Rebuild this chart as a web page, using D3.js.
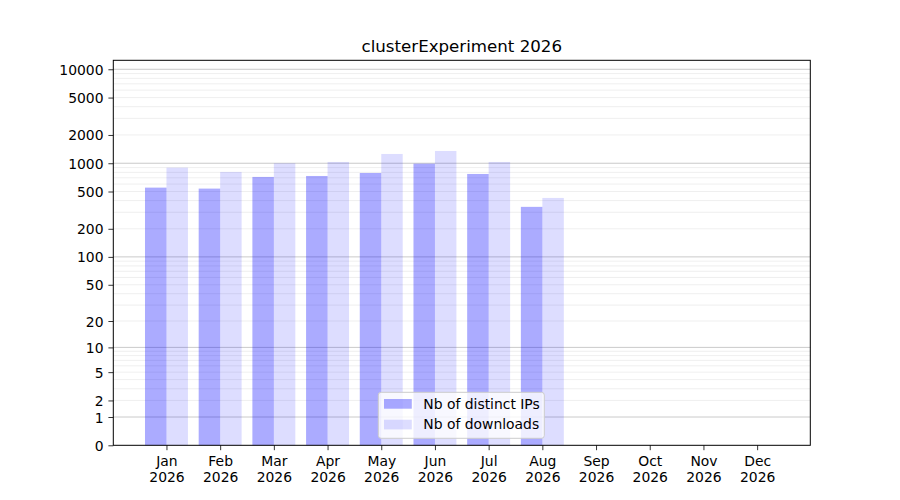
<!DOCTYPE html>
<html>
<head>
<meta charset="utf-8">
<script src="https://cdn.jsdelivr.net/npm/d3@7"></script>
<style>
  body { margin: 0; background: #fff; }
  text { font-family: "DejaVu Sans", sans-serif; fill: #000; }
</style>
</head>
<body>
<div id="chart"></div>
<script>
// ---- data ----
const months = ["Jan", "Feb", "Mar", "Apr", "May", "Jun", "Jul", "Aug", "Sep", "Oct", "Nov", "Dec"];
const year = "2026";
const distinctIPs = [550, 537, 715, 732, 788, 990, 769, 343, 0, 0, 0, 0];
const downloads = [898, 808, 999, 1032, 1256, 1352, 1032, 427, 0, 0, 0, 0];
const yTickValues = [0, 1, 2, 5, 10, 20, 50, 100, 200, 500, 1000, 2000, 5000, 10000];
const seriesNames = ["Nb of distinct IPs", "Nb of downloads"];
const titleText = "clusterExperiment 2026";

// ---- layout ----
const W = 900, H = 500;
const m = { left: 113.3, right: 810.3, top: 60.3, bottom: 445.3 };
const fs = 13.9;

const svg = d3.select("#chart").append("svg")
  .attr("width", W).attr("height", H)
  .attr("viewBox", `0 0 ${W} ${H}`);

const x = d3.scaleLinear().domain([-0.99, 11.99]).range([m.left, m.right]);
const y = d3.scaleSymlog().constant(1).domain([0, 12460]).range([m.bottom, m.top]);

// grid lines
const minorVals = [];
[1, 10, 100, 1000].forEach(d => { for (let k = 2; k <= 9; k++) minorVals.push(d * k); });
const majorVals = [1, 10, 100, 1000, 10000];

const grid = svg.append("g");
grid.selectAll("line.minor").data(minorVals.filter(v => y(v) >= m.top)).join("line")
  .attr("class", "minor")
  .attr("x1", m.left).attr("x2", m.right)
  .attr("y1", d => y(d)).attr("y2", d => y(d))
  .attr("stroke", "#ebebeb").attr("stroke-width", 0.8);
grid.selectAll("line.major").data(majorVals).join("line")
  .attr("class", "major")
  .attr("x1", m.left).attr("x2", m.right)
  .attr("y1", d => y(d)).attr("y2", d => y(d))
  .attr("stroke", "#c4c4c4").attr("stroke-width", 0.9);

// bars
const bw = 0.4;
const bars = svg.append("g");
bars.selectAll("rect.ips").data(distinctIPs).join("rect")
  .attr("class", "ips")
  .attr("x", (d, i) => x(i - bw))
  .attr("width", (d, i) => x(i) - x(i - bw))
  .attr("y", d => y(d))
  .attr("height", d => y(0) - y(d))
  .attr("fill", "blue").attr("fill-opacity", 0.33);
bars.selectAll("rect.dl").data(downloads).join("rect")
  .attr("class", "dl")
  .attr("x", (d, i) => x(i))
  .attr("width", (d, i) => x(i + bw) - x(i))
  .attr("y", d => y(d))
  .attr("height", d => y(0) - y(d))
  .attr("fill", "blue").attr("fill-opacity", 0.135);

// axes
const yAxis = d3.axisLeft(y).tickValues(yTickValues).tickFormat(d3.format("d"))
  .tickSize(4.9).tickPadding(4.9);
const gy = svg.append("g").attr("transform", `translate(${m.left},0)`).call(yAxis);
gy.select(".domain").remove();
gy.selectAll(".tick line").attr("stroke", "#000").attr("stroke-width", 0.8);
gy.selectAll(".tick text").attr("font-size", fs).attr("font-family", "DejaVu Sans").attr("dy", "0.36em").attr("fill", "#000");

const xAxis = d3.axisBottom(x).tickValues(d3.range(12)).tickSize(4.9).tickFormat(() => "");
const gx = svg.append("g").attr("transform", `translate(0,${m.bottom})`).call(xAxis);
gx.select(".domain").remove();
gx.selectAll(".tick line").attr("stroke", "#000").attr("stroke-width", 0.8);
gx.selectAll(".tick").each(function (d) {
  const t = d3.select(this).append("text")
    .attr("text-anchor", "middle").attr("font-size", fs)
    .attr("font-family", "DejaVu Sans").attr("fill", "#000");
  t.append("tspan").attr("x", 0).attr("y", 20.5).text(months[d]);
  t.append("tspan").attr("x", 0).attr("y", 36.4).text(year);
});

// frame
svg.append("rect")
  .attr("x", m.left).attr("y", m.top)
  .attr("width", m.right - m.left).attr("height", m.bottom - m.top)
  .attr("fill", "none").attr("stroke", "#000").attr("stroke-width", 1);

// title
svg.append("text")
  .attr("x", (m.left + m.right) / 2).attr("y", 51.5)
  .attr("text-anchor", "middle").attr("font-size", 16.67)
  .text(titleText);

// legend
const lg = svg.append("g").attr("transform", "translate(378.3,392.3)");
lg.append("rect").attr("width", 166).attr("height", 46).attr("rx", 2.8)
  .attr("fill", "#fff").attr("fill-opacity", 0.8)
  .attr("stroke", "#cccccc").attr("stroke-width", 1);
const legendOpac = [0.33, 0.135];
seriesNames.forEach((name, i) => {
  lg.append("rect").attr("x", 5.7).attr("y", 6.7 + i * 20.7)
    .attr("width", 27.8).attr("height", 9.7)
    .attr("fill", "blue").attr("fill-opacity", legendOpac[i]);
  lg.append("text").attr("x", 45).attr("y", 16.3 + i * 20.7)
    .attr("font-size", fs).text(name);
});
</script>
</body>
</html>
